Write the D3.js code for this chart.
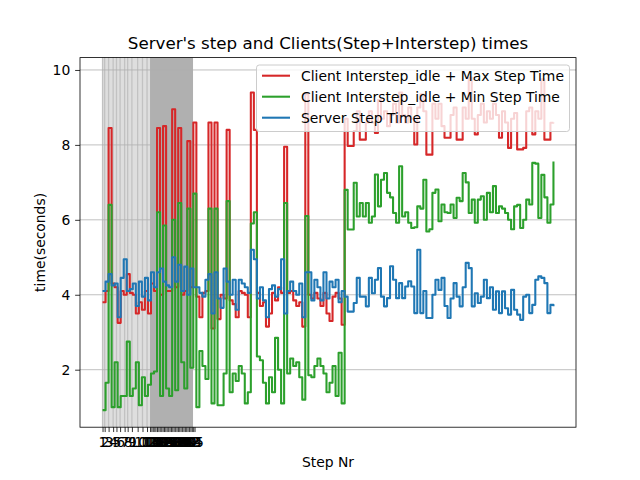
<!DOCTYPE html>
<html><head><meta charset="utf-8">
<script src="https://cdn.jsdelivr.net/npm/d3@7"></script>
<style>body{margin:0;background:#fff} text{font-family:"DejaVu Sans",sans-serif;fill:#000}</style>
</head><body><svg id="c" width="640" height="480"></svg>
<script>
// Client Interstep_idle + Max Step Time
const maxStep = [
3.8,4.1,8.45,4.3,4.2,3.25,4.1,4.0,4.55,4.05,
4.0,3.5,3.8,3.6,4.1,3.5,4.3,4.1,8.45,4.0,
8.5,4.1,4.1,8.95,4.2,8.45,4.0,4.1,8.1,4.2,
8.6,3.95,3.4,4.05,4.1,8.6,3.1,8.6,3.35,4.0,
3.9,8.4,3.85,3.75,3.4,4.1,4.05,4.0,3.4,9.4,
8.4,4.05,3.7,3.8,3.15,3.5,4.05,3.85,4.2,4.05,
7.95,4.05,4.1,3.85,3.7,3.8,3.15,9.35,4.0,3.9,
4.05,3.9,3.7,4.05,3.5,3.3,3.95,4.05,3.9,3.2,
8.7,7.97,7.97,8.37,8.9,8.14,8.14,8.6,8.9,8.6,
8.32,9.2,8.7,8.9,8.5,8.8,9.1,8.6,9.4,8.8,
8.6,9.0,8.7,8.01,9.0,9.35,8.9,7.74,7.74,9.1,
8.7,9.1,8.5,8.19,8.19,8.8,9.0,8.14,8.14,9.0,
8.7,9.8,8.7,8.28,8.8,9.1,8.6,8.9,8.7,9.1,
8.8,8.19,8.9,8.6,7.92,8.7,8.85,7.88,7.88,7.92,
8.9,9.0,8.28,8.9,8.7,9.75,8.14,8.14,8.59,8.6];
// Client Interstep_idle + Min Step Time
const minStep = [
0.92,1.65,6.4,1.0,2.2,1.0,1.3,1.3,2.75,1.3,
1.5,2.2,1.05,1.8,1.3,1.6,1.9,1.95,6.2,1.3,
5.85,1.5,1.3,6.0,1.45,6.45,2.2,1.5,6.3,2.05,
6.7,1.0,2.5,2.1,1.75,6.3,1.1,6.3,1.05,1.05,
1.9,6.5,1.4,1.9,1.7,2.1,1.9,1.1,1.4,5.9,
6.2,2.35,2.25,1.65,1.1,1.8,1.4,2.85,2.0,1.1,
6.45,1.9,2.3,2.1,2.2,1.8,1.2,6.1,1.85,1.8,
2.1,2.3,2.1,1.9,1.4,1.65,2.1,1.3,2.45,1.1,
6.8,5.74,5.74,6.99,6.09,6.45,6.09,6.45,5.92,6.09,
7.21,6.36,7.07,7.25,6.72,6.6,6.18,5.92,7.43,6.09,
6.2,5.92,5.78,5.8,6.36,6.3,7.07,5.69,5.75,6.72,
6.81,5.96,6.41,6.2,6.18,6.41,6.05,6.59,6.5,7.25,
7.0,6.18,6.54,5.92,6.54,6.63,6.0,6.72,6.2,6.9,
6.18,6.36,6.3,6.18,6.0,5.75,6.36,6.4,5.78,6.0,
6.54,6.41,7.52,7.5,6.05,7.2,6.6,5.92,6.41,7.56];
// Server Step Time
const serverStep = [
4.1,4.35,4.55,4.25,4.3,3.4,4.45,4.95,4.1,4.15,
4.3,3.7,4.35,3.95,4.45,3.85,4.6,4.2,4.6,4.7,
4.35,4.25,4.2,5.0,4.35,4.8,4.1,4.75,4.0,4.7,
4.2,4.2,4.05,3.95,4.4,4.55,3.5,4.6,3.9,3.65,
4.7,4.35,4.0,4.4,3.6,4.4,4.3,4.2,4.05,5.2,
4.95,3.9,4.2,3.85,3.4,4.15,4.25,3.95,4.15,4.95,
3.5,4.1,4.35,4.1,4.0,4.3,3.4,4.6,4.6,3.85,
4.4,4.2,3.85,4.6,3.9,4.35,4.2,4.4,3.8,4.1,
3.95,3.55,3.55,3.78,4.45,3.95,3.95,3.69,4.45,4.04,
4.4,4.71,3.95,3.69,3.91,4.76,4.4,3.91,4.31,3.91,
4.22,4.36,4.22,3.51,5.2,3.51,4.1,3.38,3.38,4.0,
4.4,4.13,4.45,3.7,3.38,3.9,4.31,3.95,3.69,4.2,
4.85,4.71,3.69,4.04,3.78,3.95,4.4,3.91,4.2,3.6,
4.09,3.51,4.09,3.64,3.47,4.13,3.6,3.47,3.33,3.95,
4.0,3.51,3.73,4.4,4.49,4.45,4.31,3.51,3.73,3.69];
const stepNr = serverStep.map((d, i) => i);

const seriesNames = ["Client Interstep_idle + Max Step Time", "Client Interstep_idle + Min Step Time", "Server Step Time"];
const seriesColors = ["#d62728", "#2ca02c", "#1f77b4"];
const yTicks = [2, 4, 6, 8, 10];
const xTickPos = [0,0.7,2,3.5,4.6,5.8,7.3,8.3,9.7,11.6,13.2,14.7,
15.7,16.15,16.6,17.1,17.5,18.0,18.45,18.9,19.4,19.85,20.3,20.75,21.2,21.7,22.15,22.6,
23.05,23.5,24.0,24.45,24.9,25.35,25.8,26.3,26.75,27.2,27.65,28.1,28.6,29.05,29.5,29.95,30.4];
const xTickLabels = ["1","2","3","4","5","6","7","8","9","10","11","12","13","14","15","16","17","18","19","20",
"21","22","23","24","25","26","27","28","29","30","31","32","33","34","35","36","37","38","39","40",
"41","42","43","44","45"];
const lightSpan = [0, 15.69];
const darkSpan = [15.69, 29.9];
const vLines = [0,0.7,2,3.5,4.6,5.8,7.3,8.3,9.7,11.6,13.2,14.7];

const svg = d3.select("#c");
const L = 80, R = 576, T = 57.6, B = 427.2;
const n = stepNr.length - 1;
const x = d3.scaleLinear().domain([-0.05 * n, n * 1.05]).range([L, R]);
const y = d3.scaleLinear().domain([0.465, 10.33]).range([B, T]);

// spans
svg.append("rect").attr("x", x(lightSpan[0])).attr("y", T).attr("width", x(lightSpan[1]) - x(lightSpan[0])).attr("height", B - T).attr("fill", "#dedede");
svg.append("rect").attr("x", x(darkSpan[0])).attr("y", T).attr("width", x(darkSpan[1]) - x(darkSpan[0])).attr("height", B - T).attr("fill", "#b0b0b0");
svg.selectAll(".vl").data(vLines).enter().append("line")
  .attr("x1", d => x(d)).attr("x2", d => x(d)).attr("y1", T).attr("y2", B)
  .attr("stroke", "#c2c2c2").attr("stroke-width", 1.3);

// grid
svg.selectAll(".grid").data(yTicks).enter().append("line")
  .attr("x1", L).attr("x2", R).attr("y1", d => y(d)).attr("y2", d => y(d))
  .attr("stroke", "#b0b0b0").attr("stroke-width", 0.8);

// lines
const line = d3.line().x((d, i) => x(stepNr[i])).y(d => y(d)).curve(d3.curveStepAfter);
[maxStep, minStep, serverStep].forEach((s, k) => {
  svg.append("path").attr("d", line(s)).attr("fill", "none")
    .attr("stroke", seriesColors[k]).attr("stroke-width", 2.08).attr("stroke-linejoin", "round");
});

// legend
const lg = svg.append("g");
lg.append("rect").attr("x", 256.5).attr("y", 65).attr("width", 313).attr("height", 66.5).attr("rx", 2.8)
  .attr("fill", "rgba(255,255,255,0.8)").attr("stroke", "#cccccc").attr("stroke-width", 1);
seriesNames.forEach((nm, k) => {
  const yy = 75.7 + k * 21;
  lg.append("line").attr("x1", 262).attr("x2", 290).attr("y1", yy).attr("y2", yy)
    .attr("stroke", seriesColors[k]).attr("stroke-width", 2.08);
  lg.append("text").attr("x", 301).attr("y", yy).attr("dy", "0.36em").attr("font-size", "13.9px").text(nm);
});

// spines
svg.append("rect").attr("x", L).attr("y", T).attr("width", R - L).attr("height", B - T)
  .attr("fill", "none").attr("stroke", "#000").attr("stroke-width", 0.8);

// y axis
const ya = svg.append("g").attr("transform", `translate(${L},0)`)
  .call(d3.axisLeft(y).tickValues(yTicks).tickSize(4.86).tickPadding(4.86).tickFormat(d3.format("d")));
ya.select(".domain").remove();
ya.selectAll("line").attr("stroke-width", 0.8);
ya.selectAll("text").attr("font-size", "13.9px").attr("font-family", "DejaVu Sans");

// x axis
const xa = svg.append("g").attr("transform", `translate(0,${B})`)
  .call(d3.axisBottom(x).tickValues(xTickPos).tickSize(4.86).tickPadding(4.86).tickFormat((d, i) => xTickLabels[i]));
xa.select(".domain").remove();
xa.selectAll("line").attr("stroke-width", 0.8);
xa.selectAll("text").attr("font-size", "13.9px").attr("font-family", "DejaVu Sans");

// labels
svg.append("text").attr("x", (L + R) / 2).attr("y", 49).attr("text-anchor", "middle").attr("font-size", "16.7px")
  .text("Server's step and Clients(Step+Interstep) times");
svg.append("text").attr("x", (L + R) / 2).attr("y", 467).attr("text-anchor", "middle").attr("font-size", "13.9px").text("Step Nr");
svg.append("text").attr("transform", `translate(45,${(T + B) / 2}) rotate(-90)`).attr("text-anchor", "middle").attr("font-size", "13.9px").text("time(seconds)");
</script></body></html>
